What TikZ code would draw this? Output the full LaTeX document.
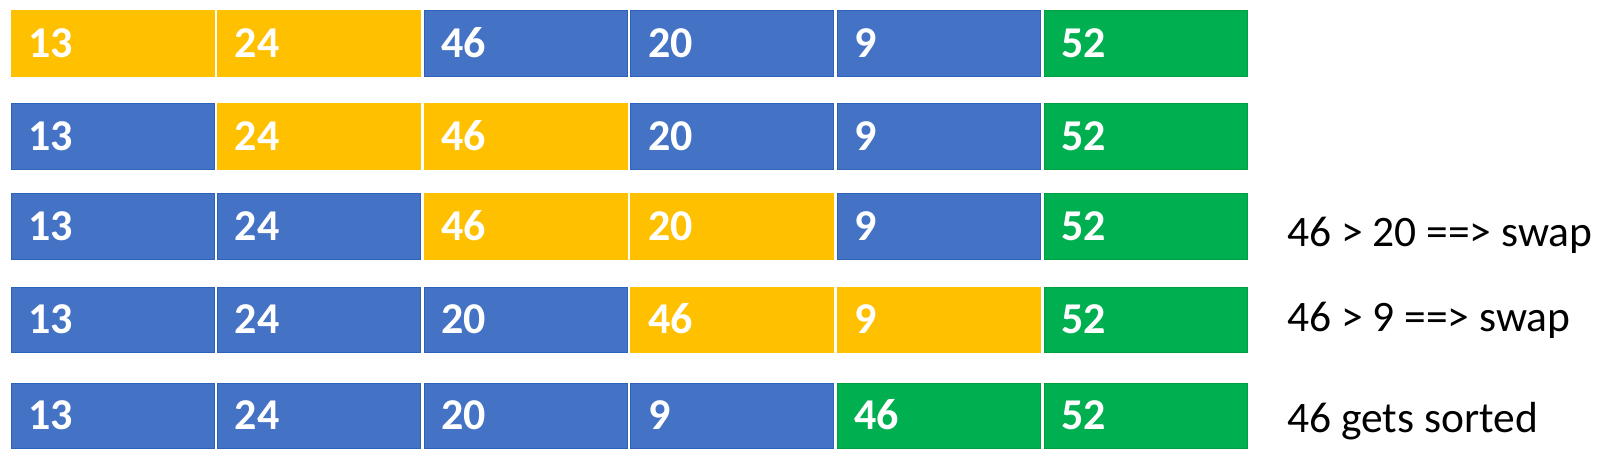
\documentclass[tikz,border=0pt]{standalone}
\usepackage{fontspec}
\setmainfont{Carlito}
\definecolor{yel}{HTML}{FFC000}
\definecolor{blu}{HTML}{4472C4}
\definecolor{bluedge}{HTML}{2E62BA}
\definecolor{grn}{HTML}{00B050}
\definecolor{grnedge}{HTML}{00A040}
\tikzset{
  cell/.style={rectangle, minimum width=203pt, minimum height=65.5pt, inner sep=0pt, outer sep=0pt, anchor=north west, line width=1pt},
  Y/.style={cell, fill=yel, draw=yel},
  B/.style={cell, fill=blu, draw=bluedge},
  G/.style={cell, fill=grn, draw=grnedge},
  num/.style={anchor=base west, inner sep=0pt, text=white, font=\fontsize{44}{44}\selectfont\bfseries},
  note/.style={anchor=base west, inner sep=0pt, text=black, font=\fontsize{43.5}{44}\selectfont}
}
\begin{document}
\begin{tikzpicture}[x=1pt,y=-1pt]
\useasboundingbox (0,0) rectangle (1600,457);
\foreach \r/\top/\cells in {1/11/{Y/13,Y/24,B/46,B/20,B/9,G/52},
                            2/104/{B/13,Y/24,Y/46,B/20,B/9,G/52},
                            3/194/{B/13,B/24,Y/46,Y/20,B/9,G/52},
                            4/287/{B/13,B/24,B/20,Y/46,Y/9,G/52},
                            5/383/{B/13,B/24,B/20,B/9,G/46,G/52}}{
  \foreach \sty/\val [count=\c from 0] in \cells {
    \node[\sty] (b-\r-\c) at ({11+206.6*\c},\top) {};
    \node[num] (t-\r-\c) at ([xshift=17pt,yshift=-14pt]b-\r-\c.west) {\val};
  }
}
\node[note] (n3) at (1287,246.5) {46 > 20 ==> swap};
\node[note] (n4) at (1287,331) {46 > 9 ==> swap};
\node[note] (n5) at (1287,432.3) {46 gets sorted};
\end{tikzpicture}
\end{document}
